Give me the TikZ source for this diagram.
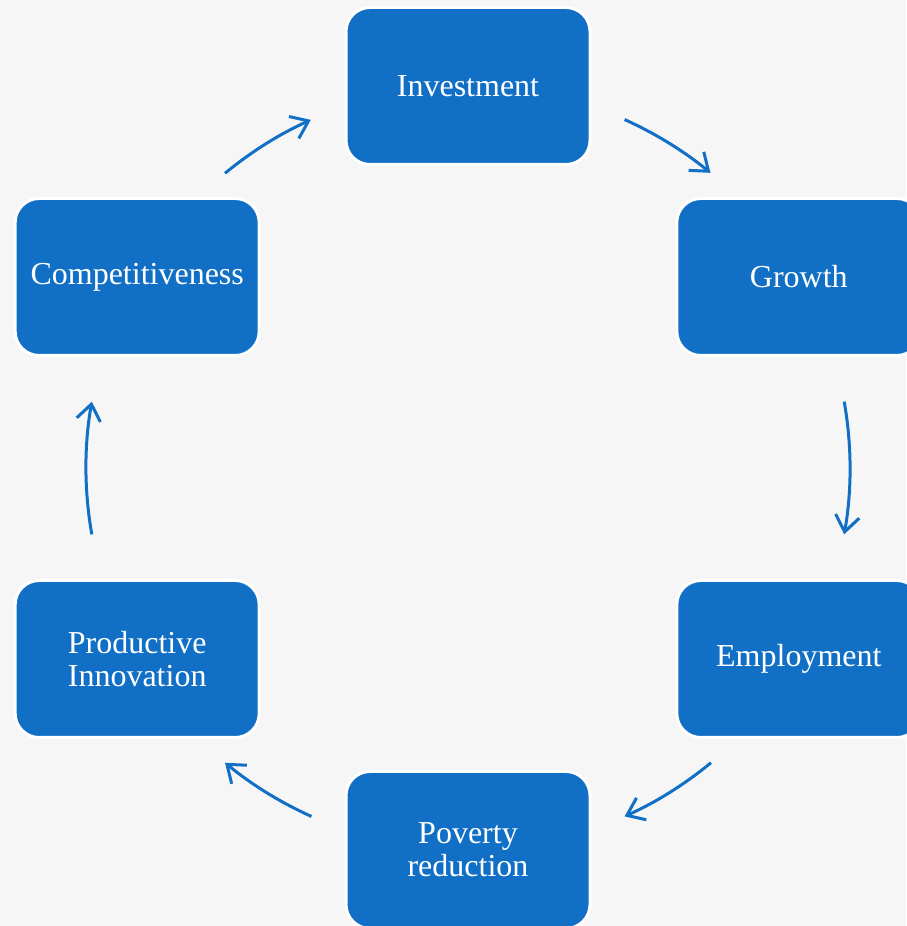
\documentclass[tikz,border=0pt]{standalone}
\usepackage{fontspec}
\setmainfont{Liberation Serif}
\usetikzlibrary{arrows.meta,calc}
\definecolor{boxblue}{RGB}{17,112,198}
\definecolor{bggray}{RGB}{246,246,246}
\tikzset{
  cyclebox/.style={rectangle, rounded corners=24pt, fill=boxblue, draw=white,
    line width=3pt, minimum width=244pt, minimum height=157pt, align=center,
    text=white, font=\fontsize{32}{33}\selectfont, inner sep=0pt},
  cyclearrow/.style={draw=boxblue, line width=3pt,
    -{Straight Barb[length=16pt,width=24pt]}}
}
\begin{document}
\begin{tikzpicture}[x=1pt,y=1pt]
\useasboundingbox (0,0) rectangle (906,926);
\fill[bggray] (0,0) rectangle (906,926);
\coordinate (O) at (468,458);
\def\R{382}
\node[cyclebox] (inv) at ($(O)+(90:\R)$) {Investment};
\node[cyclebox] (gro) at ($(O)+(30:\R)$) {Growth};
\node[cyclebox] (emp) at ($(O)+(-30:\R)$) {Employment};
\node[cyclebox] (pov) at ($(O)+(-90:\R)$) {Poverty\\reduction};
\node[cyclebox] (pro) at ($(O)+(-150:\R)$) {Productive\\Innovation};
\node[cyclebox] (com) at ($(O)+(150:\R)$) {Competitiveness};
\path (O) ++(129.5:\R) coordinate (a1);
\path (O) ++(65.8:\R) coordinate (a2);
\path (O) ++(10:\R) coordinate (a3);
\path (O) ++(-50.5:\R) coordinate (a4);
\path (O) ++(-114.2:\R) coordinate (a5);
\path (O) ++(190:\R) coordinate (a6);
\draw[cyclearrow] (a1) arc[start angle=129.5, end angle=114.3, radius=\R];
\draw[cyclearrow] (a2) arc[start angle=65.8, end angle=50.6, radius=\R];
\draw[cyclearrow] (a3) arc[start angle=10, end angle=-10, radius=\R];
\draw[cyclearrow] (a4) arc[start angle=-50.5, end angle=-65.8, radius=\R];
\draw[cyclearrow] (a5) arc[start angle=-114.2, end angle=-129.5, radius=\R];
\draw[cyclearrow] (a6) arc[start angle=190, end angle=170, radius=\R];
\end{tikzpicture}
\end{document}
